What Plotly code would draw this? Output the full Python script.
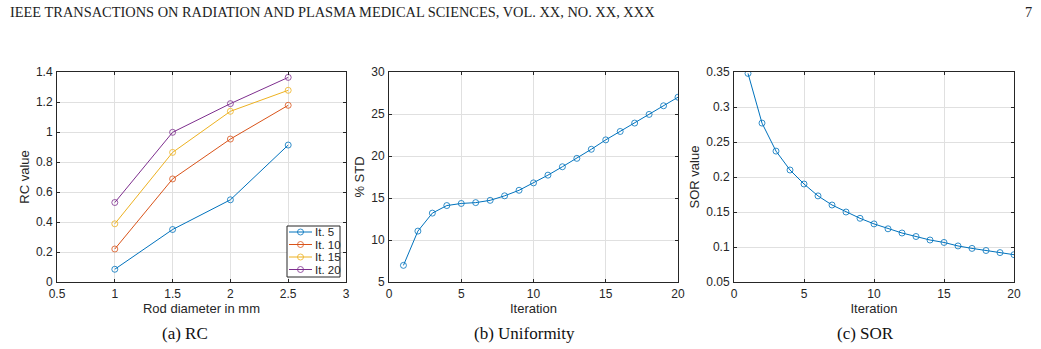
import plotly.graph_objects as go

# ---- data ----
rod_diameter = [1, 1.5, 2, 2.5]
rc_it5 = [0.085, 0.35, 0.548, 0.913]
rc_it10 = [0.22, 0.687, 0.953, 1.178]
rc_it15 = [0.388, 0.864, 1.138, 1.278]
rc_it20 = [0.53, 0.998, 1.189, 1.364]
rc_names = ["It. 5", "It. 10", "It. 15", "It. 20"]

iterations = list(range(1, 21))
std_pct = [6.98, 11.06, 13.2, 14.1, 14.35, 14.45, 14.72, 15.26, 15.92, 16.8,
           17.72, 18.72, 19.72, 20.8, 21.92, 22.92, 23.92, 24.95, 25.98, 27.0]
sor_vals = [0.348, 0.277, 0.237, 0.210, 0.190, 0.173, 0.160, 0.150, 0.141, 0.133,
            0.126, 0.120, 0.115, 0.110, 0.1065, 0.1015, 0.098, 0.095, 0.092, 0.089]

colors = ["#0072BD", "#D95319", "#EDB120", "#7E2F8E"]

W, H = 1041, 349
def px(x): return x / W
def py(y): return 1 - y / H

fig = go.Figure()

mk = dict(symbol="circle-open", size=6, line=dict(width=0.8))
for vals, name, c in zip([rc_it5, rc_it10, rc_it15, rc_it20], rc_names, colors):
    fig.add_trace(go.Scatter(x=rod_diameter, y=vals, name=name, mode="lines+markers",
                             line=dict(color=c, width=1), marker=dict(color=c, **mk),
                             xaxis="x", yaxis="y", showlegend=False))

fig.add_trace(go.Scatter(x=iterations, y=std_pct, mode="lines+markers", showlegend=False,
                         line=dict(color=colors[0], width=1), marker=dict(color=colors[0], **mk),
                         xaxis="x2", yaxis="y2"))
fig.add_trace(go.Scatter(x=iterations, y=sor_vals, mode="lines+markers", showlegend=False,
                         line=dict(color=colors[0], width=1), marker=dict(color=colors[0], **mk),
                         xaxis="x3", yaxis="y3"))

axfont = dict(family="Liberation Sans, Arial", size=12, color="#262626")
titlefont = dict(family="Liberation Sans, Arial", size=13, color="#262626")
common = dict(showline=True, linecolor="#262626", linewidth=1, mirror="ticks",
              ticks="inside", ticklen=3, tickcolor="#262626", showgrid=True,
              gridcolor="#e0e0e0", gridwidth=1, zeroline=False, tickfont=axfont,
              automargin=False, ticklabelstandoff=1)

ybot, ytop = py(282), py(72)
fig.update_layout(
    width=W, height=H, margin=dict(l=0, r=0, t=0, b=0, autoexpand=False),
    plot_bgcolor="white", paper_bgcolor="white", showlegend=False,
    xaxis=dict(domain=[px(57), px(346)], range=[0.5, 3], tickvals=[0.5, 1, 1.5, 2, 2.5, 3],
               ticktext=["0.5", "1", "1.5", "2", "2.5", "3"], anchor="y",
               title=dict(text="Rod diameter in mm", font=titlefont, standoff=2), **common),
    yaxis=dict(domain=[ybot, ytop], range=[0, 1.4], tickvals=[0, 0.2, 0.4, 0.6, 0.8, 1, 1.2, 1.4],
               ticktext=["0", "0.2", "0.4", "0.6", "0.8", "1", "1.2", "1.4"], anchor="x",
               title=dict(text="RC value", font=titlefont, standoff=3), **common),
    xaxis2=dict(domain=[px(389), px(678)], range=[0, 20], tickvals=[0, 5, 10, 15, 20], anchor="y2",
                title=dict(text="Iteration", font=titlefont, standoff=2), **common),
    yaxis2=dict(domain=[ybot, ytop], range=[5, 30], tickvals=[5, 10, 15, 20, 25, 30], anchor="x2",
                title=dict(text="% STD", font=titlefont, standoff=3), **common),
    xaxis3=dict(domain=[px(734), px(1014)], range=[0, 20], tickvals=[0, 5, 10, 15, 20], anchor="y3",
                title=dict(text="Iteration", font=titlefont, standoff=2), **common),
    yaxis3=dict(domain=[ybot, ytop], range=[0.05, 0.35],
                tickvals=[0.05, 0.1, 0.15, 0.2, 0.25, 0.3, 0.35],
                ticktext=["0.05", "0.1", "0.15", "0.2", "0.25", "0.3", "0.35"], anchor="x3",
                title=dict(text="SOR value", font=titlefont, standoff=3), **common),
)

# compact MATLAB-style legend box for panel (a)
fig.add_shape(type="rect", xref="paper", yref="paper", x0=px(287), x1=px(340), y0=py(277), y1=py(226),
              line=dict(color="#262626", width=1), fillcolor="white", layer="above")
leg_y = [232, 244.5, 257, 269.5]
for name, c, yy in zip(rc_names, colors, leg_y):
    fig.add_shape(type="line", xref="paper", yref="paper", x0=px(289), x1=px(312), y0=py(yy), y1=py(yy),
                  line=dict(color=c, width=1), layer="above")
    fig.add_shape(type="circle", xref="paper", yref="paper", xsizemode="pixel", ysizemode="pixel",
                  xanchor=px(300.5), yanchor=py(yy), x0=-3, x1=3, y0=-3, y1=3,
                  line=dict(color=c, width=0.8), fillcolor="rgba(0,0,0,0)", layer="above")
    fig.add_annotation(text=name, x=px(313), y=py(yy), xref="paper", yref="paper",
                       xanchor="left", yanchor="middle", showarrow=False,
                       font=dict(family="Liberation Sans, Arial", size=11.5, color="#262626"))

serif = "Liberation Serif, Times New Roman"
fig.add_annotation(text="IEEE TRANSACTIONS ON RADIATION AND PLASMA MEDICAL SCIENCES, VOL. XX, NO. XX, XXX",
                   x=px(8), y=py(12), xref="paper", yref="paper", xanchor="left", yanchor="middle",
                   showarrow=False, font=dict(family=serif, size=14.4, color="#222"))
fig.add_annotation(text="7", x=px(1034), y=py(12), xref="paper", yref="paper", xanchor="right",
                   yanchor="middle", showarrow=False, font=dict(family=serif, size=14.4, color="#222"))
for txt, cx in [("(a) RC", 185), ("(b) Uniformity", 524), ("(c) SOR", 865)]:
    fig.add_annotation(text=txt, x=px(cx), y=py(333), xref="paper", yref="paper",
                       xanchor="center", yanchor="middle", showarrow=False,
                       font=dict(family=serif, size=17, color="#111"))

fig.write_html("out.html")
